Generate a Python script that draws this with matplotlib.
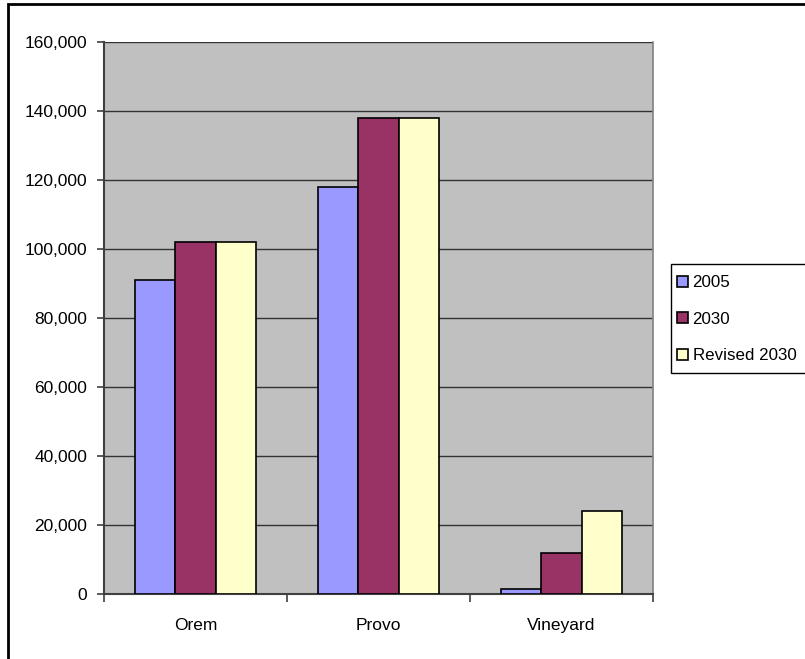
import matplotlib.pyplot as plt
import matplotlib.patches as patches
from matplotlib.ticker import FuncFormatter
import numpy as np

plt.rcParams['font.family'] = ['Liberation Sans', 'DejaVu Sans']

# Population by city
cities = ['Orem', 'Provo', 'Vineyard']
series = ['2005', '2030', 'Revised 2030']
pop_2005 = [91000, 118000, 1500]
pop_2030 = [102000, 138000, 11800]
pop_revised_2030 = [102000, 138000, 24000]
colors = ['#9999FF', '#993366', '#FFFFCC']


def plot(filename='out.png'):
    fig = plt.figure(figsize=(8.05, 6.59), dpi=100)
    ax = fig.add_axes([0.1292, 0.0986, 0.6820, 0.8376])
    ax.set_facecolor('#C0C0C0')

    x = np.arange(len(cities))
    width = 0.222
    values = [pop_2005, pop_2030, pop_revised_2030]
    for i, (name, vals) in enumerate(zip(series, values)):
        ax.bar(x + (i - 1) * width, vals, width, color=colors[i], edgecolor='black',
               linewidth=1.2, label=name, zorder=3)

    # Axes and grid
    ax.set_xlim(-0.5, 2.5)
    ax.set_ylim(0, 160000)
    ax.set_yticks(np.arange(0, 160001, 20000))
    ax.yaxis.set_major_formatter(FuncFormatter(lambda v, p: f'{int(v):,}'))
    ax.set_xticks([-0.5, 0.5, 1.5, 2.5])
    ax.set_xticklabels([])
    ax.set_xticks(x, minor=True)
    ax.set_xticklabels(cities, minor=True)
    ax.tick_params(axis='x', which='major', direction='out', length=6, width=1.2, color='#404040')
    ax.tick_params(axis='x', which='minor', length=0, pad=17, labelsize=12.5)
    ax.tick_params(axis='y', direction='out', length=5, width=1.2, color='#404040', pad=7, labelsize=12.5)
    ax.grid(axis='y', color='#333333', linewidth=1, zorder=1)
    ax.set_axisbelow(True)
    for side in ['left', 'bottom']:
        ax.spines[side].set_color('#404040')
        ax.spines[side].set_linewidth(1.5)
    ax.spines['top'].set_visible(False)
    ax.spines['right'].set_color('#808080')
    ax.spines['right'].set_linewidth(1.2)

    # Legend box runs off the right edge, so draw its frame separately
    fig.patches.append(patches.Rectangle((671 / 805, 1 - 373 / 659), 0.3, 109 / 659,
                                         transform=fig.transFigure, facecolor='white',
                                         edgecolor='black', linewidth=1, zorder=1))
    fig.legend(loc='upper left', bbox_to_anchor=(677 / 805, 1 - 275 / 659), borderaxespad=0,
               frameon=False, fontsize=12.2,
               handlelength=0.62, handleheight=0.62, handletextpad=0.3,
               labelspacing=1.28, borderpad=0)

    # Chart border
    fig.patches.append(patches.Rectangle((8 / 805, -0.1), 1.2, 1.1 - 4 / 659, transform=fig.transFigure,
                                         fill=False, edgecolor='black', linewidth=2))

    fig.savefig(filename, dpi=100, facecolor='white')


if __name__ == "__main__":
    plot('out.png')
